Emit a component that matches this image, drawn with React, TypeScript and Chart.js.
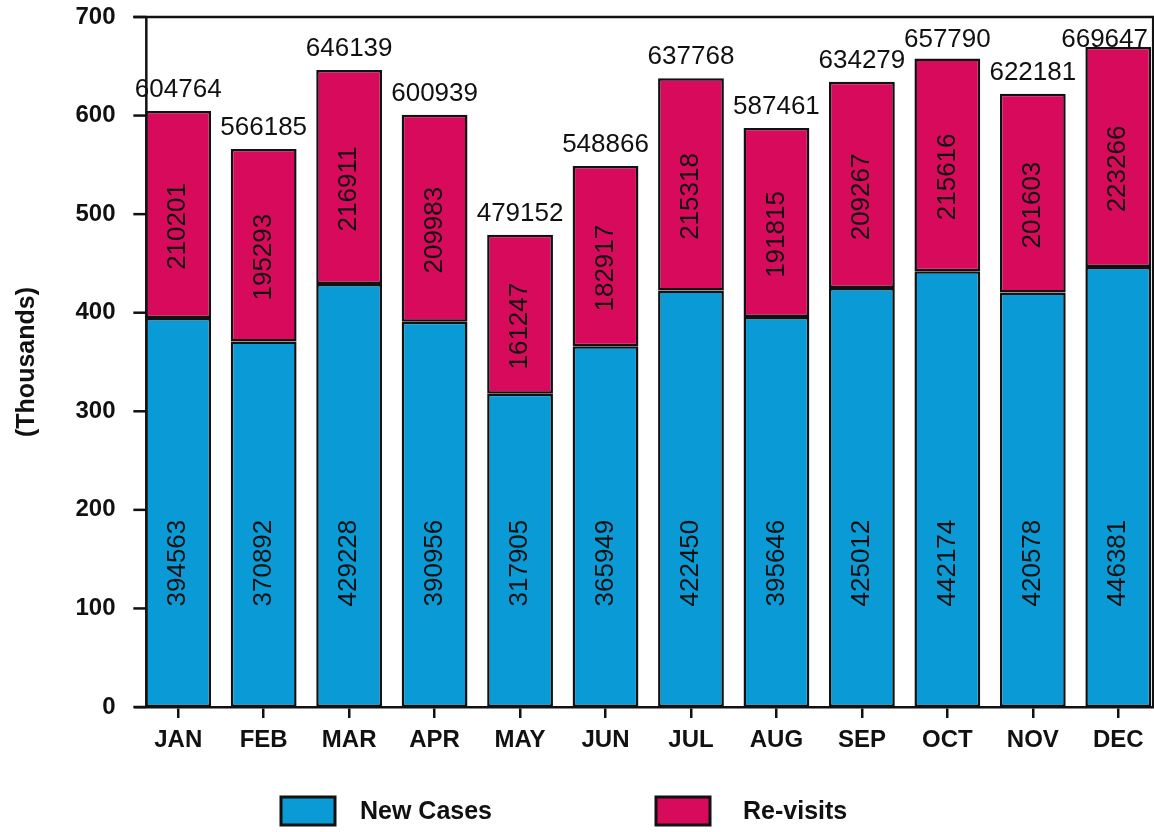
import React, { useEffect, useRef } from "react";
import { Chart, registerables } from "chart.js";

Chart.register(...registerables);

const months = ["JAN", "FEB", "MAR", "APR", "MAY", "JUN", "JUL", "AUG", "SEP", "OCT", "NOV", "DEC"];
const newCases = [394563, 370892, 429228, 390956, 317905, 365949, 422450, 395646, 425012, 442174, 420578, 446381];
const reVisits = [210201, 195293, 216911, 209983, 161247, 182917, 215318, 191815, 209267, 215616, 201603, 223266];
const totals = [604764, 566185, 646139, 600939, 479152, 548866, 637768, 587461, 634279, 657790, 622181, 669647];
const seriesNames = ["New Cases", "Re-visits"];
const yMin = 0;
const yMax = 700;
const yStep = 100;
const yTitle = "(Thousands)";

const BLUE = "#0a9bd6";
const RED = "#d80a5c";
const INK = "#111111";
const FONT = "'Liberation Sans', Arial, Helvetica, sans-serif";
const NEW_LABEL_LEVEL = 146; // value level where the New Cases labels sit

const CANVAS_W = 1180;
const CANVAS_H = 832;
const VIEW_W = 1154;

const framePlugin = {
  id: "frame",
  beforeDatasetsDraw(chart: any) {
    const { ctx } = chart;
    const y = chart.scales.y;
    const meta0 = chart.getDatasetMeta(0);
    const first = meta0.data[0];
    const last = meta0.data[meta0.data.length - 1];
    const x0 = first.x - first.width / 2 + 1;
    const xr = last.x + last.width / 2 + 2;
    const yTop = y.getPixelForValue(yMax);
    const yBot = y.getPixelForValue(yMin);
    ctx.save();
    ctx.strokeStyle = INK;
    ctx.lineWidth = 2.5;
    ctx.beginPath();
    ctx.moveTo(x0, yBot);
    ctx.lineTo(x0, yTop);
    ctx.stroke();
    y.ticks.forEach((t: any) => {
      const py = y.getPixelForValue(t.value);
      ctx.beginPath();
      ctx.moveTo(x0 - 13, py);
      ctx.lineTo(x0, py);
      ctx.stroke();
    });
    ctx.beginPath();
    ctx.moveTo(x0 - 13, yTop);
    ctx.lineTo(xr, yTop);
    ctx.lineTo(xr, yBot);
    ctx.stroke();
    ctx.restore();
  },
};

const labelPlugin = {
  id: "barLabels",
  afterDatasetsDraw(chart: any) {
    const { ctx } = chart;
    const y = chart.scales.y;
    const yTop = y.getPixelForValue(yMax);
    const metaNew = chart.getDatasetMeta(0);
    const metaRe = chart.getDatasetMeta(1);
    ctx.save();
    ctx.fillStyle = INK;
    ctx.font = `26px ${FONT}`;
    ctx.textAlign = "center";
    ctx.textBaseline = "middle";
    metaNew.data.forEach((bar: any, i: number) => {
      ctx.save();
      ctx.translate(bar.x, y.getPixelForValue(NEW_LABEL_LEVEL));
      ctx.rotate(-Math.PI / 2);
      ctx.fillText(String(newCases[i]), 0, 0);
      ctx.restore();
    });
    metaRe.data.forEach((bar: any, i: number) => {
      const cy = (bar.y + bar.base) / 2 + 12;
      ctx.save();
      ctx.translate(bar.x, cy);
      ctx.rotate(-Math.PI / 2);
      ctx.fillText(String(reVisits[i]), 0, 0);
      ctx.restore();
    });
    ctx.textBaseline = "alphabetic";
    metaRe.data.forEach((bar: any, i: number) => {
      const txt = String(totals[i]);
      const half = ctx.measureText(txt).width / 2;
      const x = Math.min(bar.x, VIEW_W - 6 - half);
      const by = Math.max(bar.y - 14, yTop + 30);
      ctx.fillText(txt, x, by);
    });
    ctx.restore();
  },
};

const legendPlugin = {
  id: "bottomLegend",
  afterDraw(chart: any) {
    const { ctx } = chart;
    const items = [
      { box: 281, text: 360 },
      { box: 656, text: 743 },
    ];
    ctx.save();
    ctx.font = `bold 25px ${FONT}`;
    ctx.textBaseline = "middle";
    ctx.textAlign = "left";
    chart.data.datasets.forEach((ds: any, i: number) => {
      const it = items[i];
      const cy = 811;
      ctx.fillStyle = ds.backgroundColor;
      ctx.fillRect(it.box, cy - 14, 54, 28);
      ctx.strokeStyle = INK;
      ctx.lineWidth = 3;
      ctx.strokeRect(it.box, cy - 14, 54, 28);
      ctx.fillStyle = INK;
      ctx.fillText(ds.label, it.text, cy + 1);
    });
    ctx.restore();
  },
};

export default function App() {
  const ref = useRef<HTMLCanvasElement | null>(null);

  useEffect(() => {
    if (!ref.current) return;
    const chart = new Chart(ref.current, {
      type: "bar",
      data: {
        labels: months,
        datasets: [
          {
            label: seriesNames[0],
            data: newCases.map((v) => v / 1000),
            backgroundColor: BLUE,
            borderColor: INK,
            borderWidth: 2.5,
            borderSkipped: false,
          },
          {
            label: seriesNames[1],
            data: reVisits.map((v) => v / 1000),
            backgroundColor: RED,
            borderColor: INK,
            borderWidth: 2.5,
            borderSkipped: false,
          },
        ],
      },
      options: {
        responsive: false,
        animation: false,
        events: [],
        layout: { padding: { top: 17, right: 19, left: 0, bottom: 0 } },
        datasets: {
          bar: { barPercentage: 0.77, categoryPercentage: 1 },
        },
        plugins: {
          legend: { display: false },
          tooltip: { enabled: false },
          title: { display: false },
        },
        scales: {
          x: {
            stacked: true,
            offset: true,
            afterFit(scale: any) {
              scale.height = 125;
              scale.paddingLeft = 0;
              scale.paddingRight = 0;
            },
            grid: {
              display: true,
              drawOnChartArea: false,
              drawTicks: true,
              tickLength: 11,
              offset: false,
              color: INK,
              lineWidth: 2.5,
            },
            border: { display: true, color: INK, width: 2.5 },
            ticks: {
              color: INK,
              padding: 8,
              font: { family: FONT, size: 24, weight: "bold" },
              maxRotation: 0,
              autoSkip: false,
            },
          },
          y: {
            stacked: true,
            min: yMin,
            max: yMax,
            afterFit(scale: any) {
              scale.width = 135.5;
              scale.paddingTop = 0;
              scale.paddingBottom = 0;
            },
            grid: { display: false, drawTicks: false },
            border: { display: false },
            ticks: {
              stepSize: yStep,
              color: INK,
              padding: 20,
              font: { family: FONT, size: 24, weight: "bold" },
            },
            title: {
              display: true,
              text: yTitle,
              color: INK,
              padding: { top: 12, bottom: 0 },
              font: { family: FONT, size: 25, weight: "bold" },
            },
          },
        },
      },
      plugins: [framePlugin, labelPlugin, legendPlugin],
    });
    return () => chart.destroy();
  }, []);

  return (
    <div
      style={{
        position: "fixed",
        left: 0,
        top: 0,
        width: VIEW_W,
        height: 832,
        overflow: "hidden",
        background: "#ffffff",
      }}
    >
      <canvas
        ref={ref}
        width={CANVAS_W}
        height={CANVAS_H}
        style={{ width: CANVAS_W, height: CANVAS_H, display: "block" }}
      />
    </div>
  );
}
